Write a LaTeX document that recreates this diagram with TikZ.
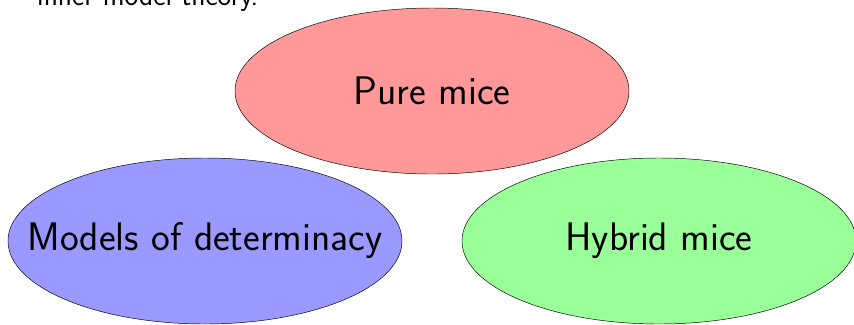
\documentclass[tikz,border=0pt]{standalone}
\usepackage{tikz}
\usetikzlibrary{positioning,shapes.geometric}

\begin{document}
\begin{tikzpicture} [x=0.03cm, y=-0.03cm, node distance=4cm,
                    hiiri/.style={ellipse,draw,inner ysep=0pt,inner xsep=-2cm,minimum width=11.82cm,
                                  minimum height=4.98cm,font=\sffamily\fontsize{34}{40}\selectfont}]

\clip (0,0) rectangle (854,324);

\node[anchor=base west,inner sep=0pt,font=\sffamily\fontsize{25}{30}\selectfont] (otsikko) at (37,5) {inner model theory.};

\node[hiiri,fill=red!40] (puhdas) at (432,91) {Pure mice};
\node[hiiri,fill=blue!40] (malli) at (205,241) {Models of determinacy};
\node[hiiri,fill=green!40] (hybridi) at (659,241) {Hybrid mice};
\end{tikzpicture}
\end{document}
